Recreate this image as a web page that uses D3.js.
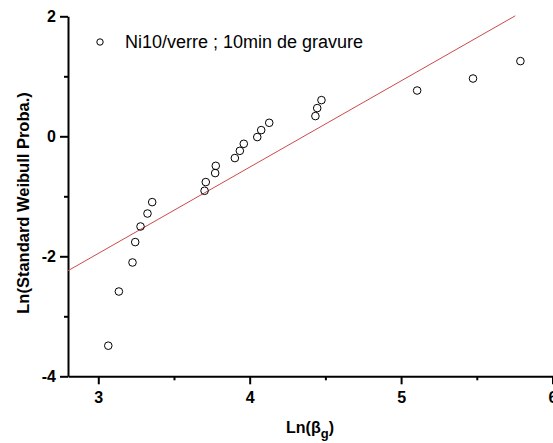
<!DOCTYPE html>
<html><head><meta charset="utf-8">
<script src="https://cdn.jsdelivr.net/npm/d3@7"></script>
<style>
body{margin:0;background:#fff;}
svg{display:block;}
text{font-family:"Liberation Sans",Arial,sans-serif;}
</style>
</head><body>
<svg id="chart" width="553" height="443"></svg>
<script>
// ---- data ----
const xValues = [3.066, 3.136, 3.226, 3.244, 3.279, 3.325, 3.356, 3.702, 3.710, 3.772, 3.776, 3.902, 3.935, 3.961, 4.050, 4.076, 4.129, 4.434, 4.446, 4.474, 5.106, 5.475, 5.788];
const yValues = [-3.49, -2.587, -2.103, -1.763, -1.503, -1.287, -1.097, -0.908, -0.763, -0.613, -0.492, -0.363, -0.242, -0.125, -0.013, 0.103, 0.225, 0.337, 0.470, 0.603, 0.763, 0.963, 1.253];
const fitX = [2.8, 5.754];
const fitY = [-2.24, 2.008];
const xTicks = [3, 4, 5, 6];
const xMinorTicks = [3.5, 4.5, 5.5];
const yTicks = [-4, -2, 0, 2];
const yMinorTicks = [-3, -1, 1];
const legendLabel = "Ni10/verre ; 10min de gravure";
const xTitleMain = "Ln(β";
const xTitleSub = "g";
const xTitleEnd = ")";
const yTitle = "Ln(Standard Weibull Proba.)";

// ---- chart ----
const svg = d3.select("#chart");
const x = d3.scaleLinear().domain([2.8, 6]).range([68, 552.5]);
const y = d3.scaleLinear().domain([-4, 2]).range([376.3, 16.3]);
const font = '"Liberation Sans",Arial,sans-serif';

// minor ticks
const xMinorAxis = d3.axisBottom(x).tickValues(xMinorTicks).tickSize(4).tickFormat("").tickSizeOuter(0);
svg.append("g").attr("transform", `translate(0,${y(-4)})`).call(xMinorAxis)
  .call(g => g.select(".domain").remove())
  .call(g => g.selectAll("line").attr("stroke-width", 2));
const yMinorAxis = d3.axisLeft(y).tickValues(yMinorTicks).tickSize(4).tickFormat("").tickSizeOuter(0);
svg.append("g").attr("transform", `translate(${x(2.8)},0)`).call(yMinorAxis)
  .call(g => g.select(".domain").remove())
  .call(g => g.selectAll("line").attr("stroke-width", 2));

// major axes
const xAxis = d3.axisBottom(x).tickValues(xTicks).tickSize(8).tickPadding(7).tickSizeOuter(0).tickFormat(d3.format("d"));
svg.append("g").attr("transform", `translate(0,${y(-4)})`).call(xAxis)
  .call(g => g.select(".domain").attr("stroke-width", 2))
  .call(g => g.selectAll("line").attr("stroke-width", 2))
  .call(g => g.selectAll("text").attr("font-size", 16).attr("font-weight", "bold").attr("fill", "#000").style("font-family", font));

const yAxis = d3.axisLeft(y).tickValues(yTicks).tickSize(8).tickPadding(4).tickSizeOuter(0).tickFormat(d => d3.format("d")(d).replace("−", "-"));
svg.append("g").attr("transform", `translate(${x(2.8)},0)`).call(yAxis)
  .call(g => g.select(".domain").attr("stroke-width", 2))
  .call(g => g.selectAll("line").attr("stroke-width", 2))
  .call(g => g.selectAll("text").attr("font-size", 16).attr("font-weight", "bold").attr("fill", "#000").style("font-family", font));

// fit line
const fitData = fitX.map((v, i) => [v, fitY[i]]);
svg.append("path")
  .datum(fitData)
  .attr("d", d3.line().x(d => x(d[0])).y(d => y(d[1])))
  .attr("fill", "none")
  .attr("stroke", "#cc4a4a")
  .attr("stroke-width", 1);

// points
const pts = xValues.map((v, i) => [v, yValues[i]]);
svg.append("g").selectAll("circle").data(pts).join("circle")
  .attr("cx", d => x(d[0])).attr("cy", d => y(d[1])).attr("r", 3.8)
  .attr("fill", "none").attr("stroke", "#000").attr("stroke-width", 1);

// legend
svg.append("circle").attr("cx", 100).attr("cy", 42).attr("r", 3.2)
  .attr("fill", "none").attr("stroke", "#000").attr("stroke-width", 1);
svg.append("text").attr("x", 125).attr("y", 48).attr("font-size", 18).attr("fill", "#000").text(legendLabel);

// axis titles
const xt = svg.append("text").attr("x", 310).attr("y", 433).attr("text-anchor", "middle")
  .attr("font-size", 16).attr("font-weight", "bold").attr("fill", "#000");
xt.append("tspan").text(xTitleMain);
xt.append("tspan").attr("dy", 5).attr("font-size", 13).text(xTitleSub);
xt.append("tspan").attr("dy", -5).text(xTitleEnd);

svg.append("text").attr("transform", "translate(29,203) rotate(-90)").attr("text-anchor", "middle")
  .attr("font-size", 16.5).attr("font-weight", "bold").attr("fill", "#000").text(yTitle);
</script>
</body></html>
